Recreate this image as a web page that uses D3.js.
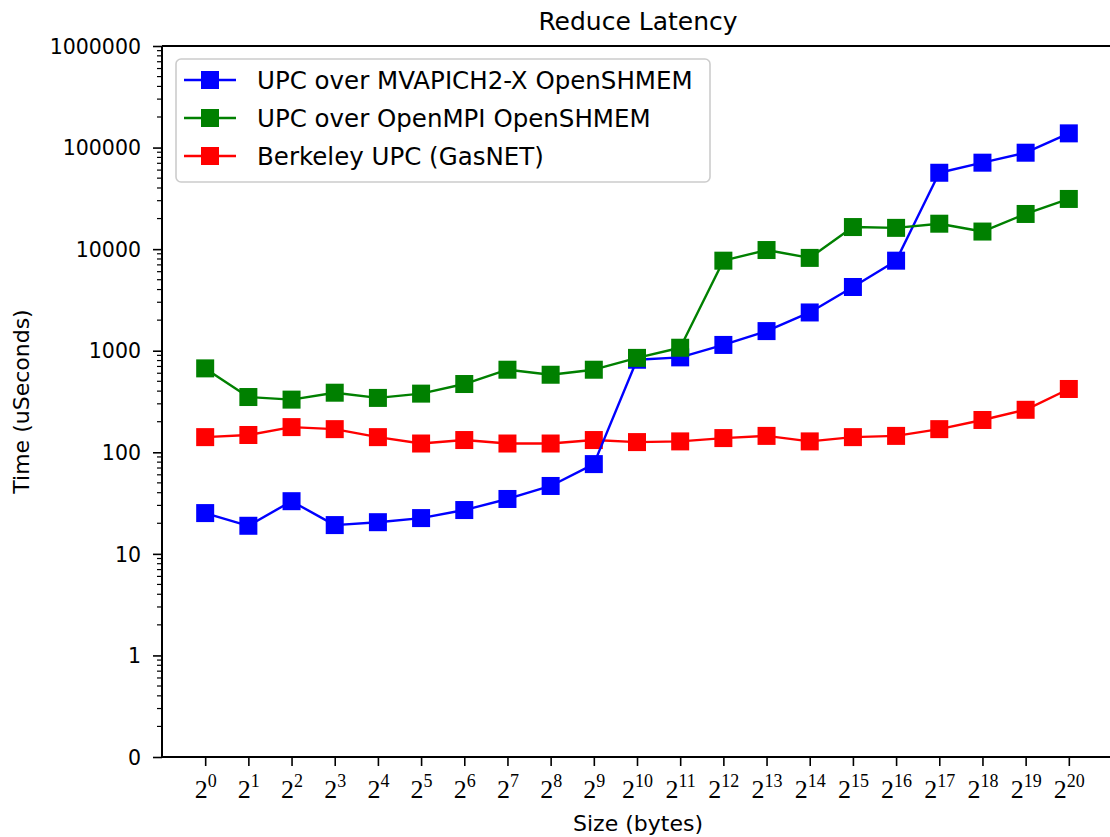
<!DOCTYPE html>
<html>
<head>
<meta charset="utf-8">
<script src="https://cdn.jsdelivr.net/npm/d3@7"></script>
<style>
  html, body { margin: 0; padding: 0; background: #fff; }
  svg { display: block; }
  text { fill: #000; }
</style>
</head>
<body>
<svg id="chart" width="1110" height="837"></svg>
<script>
// Message sizes 2^0 .. 2^20 bytes
const exponents = d3.range(0, 21);

// Reduce latency in microseconds
const mvapichShmem = [25.2, 18.9, 33.0, 19.2, 20.5, 22.5, 27.0, 34.7, 46.6, 76.5,
  815, 860, 1140, 1560, 2380, 4240, 7700, 56500, 71000, 89000, 138000];
const openmpiShmem = [670, 350, 330, 386, 343, 378, 470, 650, 580, 650,
  850, 1070, 7700, 9800, 8200, 16500, 16200, 17800, 14900, 22200, 31200];
const berkeleyUpc = [141, 148, 177, 169, 141, 122, 132, 122, 122, 132,
  126, 128, 138, 145, 128, 141, 145, 169, 208, 262, 420];

const seriesNames = ["UPC over MVAPICH2-X OpenSHMEM", "UPC over OpenMPI OpenSHMEM", "Berkeley UPC (GasNET)"];
const seriesColors = ["#0000ff", "#008000", "#ff0000"];
const seriesValues = [mvapichShmem, openmpiShmem, berkeleyUpc];

const yTickValues = [0.1, 1, 10, 100, 1000, 10000, 100000, 1000000];

const svg = d3.select("#chart");
const plotLeft = 162, plotTop = 46, plotBottom = 757, plotRight = 1112;

const x = d3.scaleLinear().domain([-1, 21]).range([plotLeft, plotRight]);
const y = d3.scaleLog().domain([0.1, 1e6]).range([plotBottom, plotTop]);

const sansFont = "'DejaVu Sans', sans-serif";
const serifFont = "'Liberation Serif', 'DejaVu Serif', serif";

// Series: red first, then blue, then green so overlaps stack the same way
const drawOrder = [2, 0, 1];
const line = d3.line().x((d, i) => x(exponents[i])).y(d => y(d));
const markerSize = 18;
drawOrder.forEach(k => {
  const g = svg.append("g");
  g.append("path")
    .datum(seriesValues[k])
    .attr("d", line)
    .attr("fill", "none")
    .attr("stroke", seriesColors[k])
    .attr("stroke-width", 2.4)
    .attr("stroke-linejoin", "round");
  g.selectAll("rect")
    .data(seriesValues[k])
    .join("rect")
    .attr("x", (d, i) => x(exponents[i]) - markerSize / 2)
    .attr("y", d => y(d) - markerSize / 2)
    .attr("width", markerSize)
    .attr("height", markerSize)
    .attr("fill", seriesColors[k]);
});

// Y axis with decade labels and minor ticks
const yAxis = d3.axisLeft(y)
  .tickValues(yTickValues)
  .tickFormat(d => d < 1 ? "0" : d3.format("d")(d))
  .tickSize(9)
  .tickPadding(12);
const gy = svg.append("g").attr("transform", `translate(${plotLeft},0)`).call(yAxis);
gy.select(".domain").remove();
gy.selectAll("line").attr("stroke", "#000").attr("stroke-width", 1.6);
gy.selectAll("text").attr("font-family", sansFont).attr("font-size", 20.5).attr("dy", "0.35em");

const minorTicks = [];
yTickValues.slice(0, -1).forEach(dec => {
  for (let m = 2; m <= 9; m++) minorTicks.push(dec * m);
});
svg.append("g").selectAll("line")
  .data(minorTicks)
  .join("line")
  .attr("x1", plotLeft - 5).attr("x2", plotLeft)
  .attr("y1", d => y(d)).attr("y2", d => y(d))
  .attr("stroke", "#000").attr("stroke-width", 1.2);

// X axis ticks with power-of-two labels
const xAxis = d3.axisBottom(x).tickValues(exponents).tickFormat("").tickSize(9);
const gx = svg.append("g").attr("transform", `translate(0,${plotBottom})`).call(xAxis);
gx.select(".domain").remove();
gx.selectAll("line").attr("stroke", "#000").attr("stroke-width", 1.6);
gx.selectAll(".tick").each(function(d) {
  const t = d3.select(this).append("text")
    .attr("y", 41)
    .attr("text-anchor", "middle")
    .attr("font-family", serifFont)
    .attr("font-size", 26);
  t.append("tspan").text("2");
  t.append("tspan").attr("font-size", 18).attr("dy", -11).text(d);
});

// Frame: left, bottom and top spines
svg.append("line").attr("x1", plotLeft).attr("x2", plotLeft).attr("y1", plotTop).attr("y2", plotBottom)
  .attr("stroke", "#000").attr("stroke-width", 2);
svg.append("line").attr("x1", plotLeft).attr("x2", plotRight).attr("y1", plotBottom).attr("y2", plotBottom)
  .attr("stroke", "#000").attr("stroke-width", 2);
svg.append("line").attr("x1", plotLeft).attr("x2", plotRight).attr("y1", plotTop).attr("y2", plotTop)
  .attr("stroke", "#000").attr("stroke-width", 2);

// Title and axis labels
svg.append("text").attr("x", 638).attr("y", 30).attr("text-anchor", "middle")
  .attr("font-family", sansFont).attr("font-size", 25).text("Reduce Latency");
svg.append("text").attr("x", 638).attr("y", 831).attr("text-anchor", "middle")
  .attr("font-family", sansFont).attr("font-size", 22).text("Size (bytes)");
svg.append("text").attr("transform", `translate(29,${(plotTop + plotBottom) / 2}) rotate(-90)`)
  .attr("text-anchor", "middle")
  .attr("font-family", sansFont).attr("font-size", 22).text("Time (uSeconds)");

// Legend
const legend = svg.append("g");
legend.append("rect")
  .attr("x", 176).attr("y", 59).attr("width", 534).attr("height", 123)
  .attr("rx", 5).attr("fill", "#fff").attr("fill-opacity", 0.85)
  .attr("stroke", "#cccccc").attr("stroke-width", 1.6);
seriesNames.forEach((name, k) => {
  const ly = 80 + k * 38;
  legend.append("line").attr("x1", 184).attr("x2", 236).attr("y1", ly).attr("y2", ly)
    .attr("stroke", seriesColors[k]).attr("stroke-width", 2.4);
  legend.append("rect").attr("x", 201).attr("y", ly - 9).attr("width", 18).attr("height", 18)
    .attr("fill", seriesColors[k]);
  legend.append("text").attr("x", 257).attr("y", ly).attr("dy", "0.35em")
    .attr("font-family", sansFont).attr("font-size", 24.5).text(name);
});
</script>
</body>
</html>
